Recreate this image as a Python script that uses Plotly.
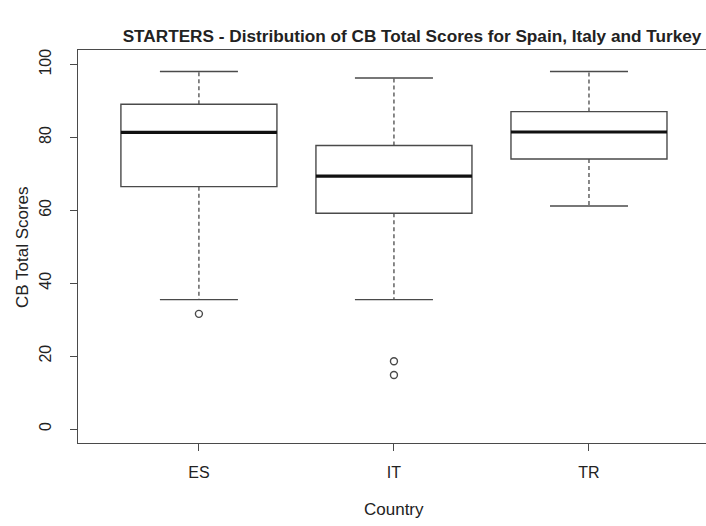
import plotly.graph_objects as go

# ---- data ----
countries = ["ES", "IT", "TR"]
upper_whisker = [98.1, 96.3, 98.1]
q3 = [89.1, 77.8, 87.1]
median = [81.4, 69.4, 81.5]
q1 = [66.5, 59.2, 74.1]
lower_whisker = [35.5, 35.5, 61.2]
outlier_country = ["ES", "IT", "IT"]
outlier_value = [31.6, 18.6, 14.8]
y_ticks = [0, 20, 40, 60, 80, 100]

# ---- layout constants ----
W, H = 706, 526
ML, MR, MT, MB = 78, 0, 50, 83
PW, PH = W - ML - MR, H - MT - MB
LINE = "#4a4a4a"
TEXT = "#222222"
FONT = "Liberation Sans, Arial, Helvetica, sans-serif"
BOXW = 0.8
CAPW = 0.4

pos = {c: i + 1 for i, c in enumerate(countries)}
xs = [pos[c] for c in countries]

fig = go.Figure()

# boxes (whiskers drawn separately in R style)
fig.add_trace(go.Box(
    x=xs, q1=q1, median=median, q3=q3,
    lowerfence=q1, upperfence=q3,
    width=BOXW, fillcolor="white",
    line=dict(color=LINE, width=1.4),
    whiskerwidth=0, boxpoints=False, showlegend=False, hoverinfo="skip",
))

# dashed whiskers
wx, wy = [], []
for x, lo, a, b, hi in zip(xs, lower_whisker, q1, q3, upper_whisker):
    wx += [x, x, None, x, x, None]
    wy += [b, hi, None, a, lo, None]
fig.add_trace(go.Scatter(x=wx, y=wy, mode="lines",
                         line=dict(color=LINE, width=1.3, dash="4px,3px"),
                         showlegend=False, hoverinfo="skip"))

# whisker caps
cx, cy = [], []
for x, lo, hi in zip(xs, lower_whisker, upper_whisker):
    cx += [x - CAPW / 2, x + CAPW / 2, None, x - CAPW / 2, x + CAPW / 2, None]
    cy += [hi, hi, None, lo, lo, None]
fig.add_trace(go.Scatter(x=cx, y=cy, mode="lines",
                         line=dict(color=LINE, width=1.4),
                         showlegend=False, hoverinfo="skip"))

# thick medians
mx, my = [], []
for x, m in zip(xs, median):
    mx += [x - BOXW / 2, x + BOXW / 2, None]
    my += [m, m, None]
fig.add_trace(go.Scatter(x=mx, y=my, mode="lines",
                         line=dict(color="#111111", width=3.2),
                         showlegend=False, hoverinfo="skip"))

# outliers
fig.add_trace(go.Scatter(x=[pos[c] for c in outlier_country], y=outlier_value,
                         mode="markers",
                         marker=dict(symbol="circle-open", size=7,
                                     color=LINE, line=dict(width=1.4)),
                         showlegend=False, hoverinfo="skip"))


def px_x(p):
    return (p - ML) / PW


def px_y(p):
    return (H - MB - p) / PH


fig.update_layout(
    width=W, height=H,
    margin=dict(l=ML, r=MR, t=MT, b=MB, pad=0),
    paper_bgcolor="white", plot_bgcolor="white",
    font=dict(family=FONT, size=16, color=TEXT),
    title=dict(text="<b>STARTERS - Distribution of CB Total Scores for Spain, Italy and Turkey</b>",
               x=412 / W, xref="container", xanchor="center",
               y=1 - 36 / H, yref="container", yanchor="middle",
               font=dict(size=17.2, color=TEXT)),
    xaxis=dict(range=[0.38, 3.60], tickvals=xs, ticktext=countries,
               showgrid=False, zeroline=False,
               showline=True, mirror=True, linecolor=LINE, linewidth=1.3,
               ticks="outside", ticklen=7, tickcolor=LINE, tickwidth=1.3,
               ticklabelstandoff=8,
               tickfont=dict(size=16, color=TEXT)),
    yaxis=dict(range=[-3.84, 104.0], tickvals=y_ticks,
               showgrid=False, zeroline=False,
               showline=True, mirror=False, linecolor=LINE, linewidth=1.3,
               ticks="outside", ticklen=7, tickcolor=LINE, tickwidth=1.3,
               tickangle=-90, ticklabelstandoff=12,
               tickfont=dict(size=16, color=TEXT)),
    annotations=[
        dict(text="CB Total Scores", textangle=-90, showarrow=False,
             xref="paper", yref="paper", x=px_x(22), y=px_y(247),
             xanchor="center", yanchor="middle",
             font=dict(size=17, color=TEXT)),
        dict(text="Country", showarrow=False,
             xref="paper", yref="paper", x=px_x(394), y=px_y(509),
             xanchor="center", yanchor="middle",
             font=dict(size=17, color=TEXT)),
    ],
)

fig.write_html("out.html",
               config={"displayModeBar": False},
               post_script="document.body.style.margin='0';document.body.style.overflow='hidden';")
